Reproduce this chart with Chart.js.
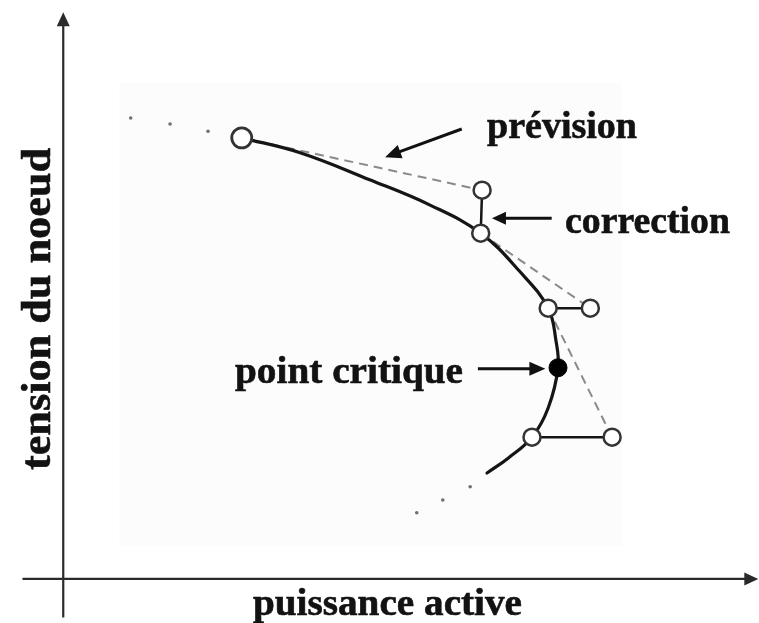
<!DOCTYPE html>
<html>
<head>
<meta charset="utf-8">
<script src="https://cdn.jsdelivr.net/npm/chart.js@4/dist/chart.umd.min.js"></script>
<style>
  html, body { margin: 0; padding: 0; background: #ffffff; }
  #wrap { width: 759px; height: 623px; }
</style>
</head>
<body>
<div id="wrap"><canvas id="pv" width="759" height="623"></canvas></div>
<script>
// P-V curve traced by continuation: active power (P) vs bus voltage (V), arbitrary units
const curveP = [25.4, 33.7, 43.6, 52.2, 59.4, 65.0, 69.0, 70.1, 70.4, 69.0, 66.7, 63.3, 60.3];
const curveV = [80.0, 77.3, 72.4, 67.8, 62.7, 55.7, 49.1, 43.3, 38.3, 31.0, 25.7, 21.9, 19.2];

// corrected points lying on the curve
const corrP = [25.4, 59.4, 69.0, 66.7];
const corrV = [80.0, 62.7, 49.1, 25.7];

// predicted points (tangent step)
const predP = [59.6, 75.0, 78.1];
const predV = [70.5, 49.1, 25.7];

// critical (nose) point
const critP = [70.4];
const critV = [38.3];

// dotted continuation beyond the traced part
const dotP = [9.6, 15.2, 20.6, 50.3, 54.0, 57.9];
const dotV = [83.6, 82.5, 81.2, 12.0, 14.3, 16.7];

const labels = {
  xTitle: 'puissance active',
  yTitle: 'tension du noeud',
  pred: 'prévision',
  corr: 'correction',
  crit: 'point critique'
};

const pts = (xs, ys) => xs.map((x, i) => ({ x: x, y: ys[i] }));

const datasets = [];

// open circles: corrected and predicted points
datasets.push({
  data: pts(corrP, corrV).slice(0, 1),
  showLine: false, pointRadius: 10, pointBorderWidth: 2.8,
  pointBackgroundColor: '#ffffff', pointBorderColor: '#333333'
});
datasets.push({
  data: pts(corrP, corrV).slice(1).concat(pts(predP, predV)),
  showLine: false, pointRadius: 8.5, pointBorderWidth: 2.5,
  pointBackgroundColor: '#ffffff', pointBorderColor: '#333333'
});
// critical point (filled)
datasets.push({
  data: pts(critP, critV),
  showLine: false, pointRadius: 9, pointBorderWidth: 1,
  pointBackgroundColor: '#000000', pointBorderColor: '#000000'
});
// dotted extension
datasets.push({
  data: pts(dotP, dotV),
  showLine: false, pointRadius: 1.8, pointBorderWidth: 0,
  pointBackgroundColor: '#6f6f6f', pointBorderColor: '#6f6f6f'
});
// correction segments: predicted point -> next corrected point
for (let i = 0; i < predP.length; i++) {
  datasets.push({
    data: [{ x: predP[i], y: predV[i] }, { x: corrP[i + 1], y: corrV[i + 1] }],
    showLine: true, pointRadius: 0, borderColor: '#151515', borderWidth: 2.5, tension: 0
  });
}
// the solid P-V curve
datasets.push({
  data: pts(curveP, curveV),
  showLine: true, pointRadius: 0, borderColor: '#151515', borderWidth: 3.2,
  tension: 0.4, borderCapStyle: 'round'
});
// prediction segments: corrected point -> predicted point (dashed)
for (let i = 0; i < predP.length; i++) {
  datasets.push({
    data: [{ x: corrP[i], y: corrV[i] }, { x: predP[i], y: predV[i] }],
    showLine: true, pointRadius: 0, borderColor: '#8a8a8a', borderWidth: 2,
    borderDash: [9, 6], tension: 0
  });
}

// bold serif text stretched to a given length
function drawFitted(ctx, text, x, y, width, size, rot) {
  ctx.save();
  ctx.font = 'bold ' + size + 'px "Liberation Serif", "Times New Roman", serif';
  ctx.fillStyle = '#121212';
  ctx.textAlign = 'left';
  ctx.textBaseline = 'alphabetic';
  const w = ctx.measureText(text).width;
  ctx.translate(x, y);
  if (rot) ctx.rotate(rot);
  ctx.scale(width / w, 1);
  ctx.fillText(text, 0, 0);
  ctx.strokeStyle = '#121212';
  ctx.lineWidth = 0.6;
  ctx.strokeText(text, 0, 0);
  ctx.restore();
}

function arrow(ctx, x0, y0, x1, y1, lw, headLen, headHalf, color) {
  const a = Math.atan2(y1 - y0, x1 - x0);
  const bx = x1 - headLen * Math.cos(a), by = y1 - headLen * Math.sin(a);
  ctx.save();
  ctx.strokeStyle = color || '#111111';
  ctx.fillStyle = color || '#111111';
  ctx.lineWidth = lw;
  ctx.beginPath();
  ctx.moveTo(x0, y0);
  ctx.lineTo(bx + Math.cos(a), by + Math.sin(a));
  ctx.stroke();
  ctx.beginPath();
  ctx.moveTo(x1, y1);
  ctx.lineTo(bx + headHalf * Math.sin(a), by - headHalf * Math.cos(a));
  ctx.lineTo(bx - headHalf * Math.sin(a), by + headHalf * Math.cos(a));
  ctx.closePath();
  ctx.fill();
  ctx.restore();
}

const decor = {
  id: 'decor',
  beforeDatasetsDraw(chart) {
    const ctx = chart.ctx, sx = chart.scales.x, sy = chart.scales.y;
    const X = v => sx.getPixelForValue(v), Y = v => sy.getPixelForValue(v);
    // faint panel behind the curve
    ctx.save();
    ctx.fillStyle = '#fcfcfc';
    ctx.fillRect(X(8), Y(90), X(79.5) - X(8), Y(6) - Y(90));
    ctx.restore();
    // axes with arrow heads
    arrow(ctx, X(0), Y(-7), X(0), Y(102.8), 2.2, 14, 6.5, '#2a2a2a');
    arrow(ctx, X(-5.8), Y(0), X(98.9), Y(0), 2.2, 14, 6.5, '#2a2a2a');
  },
  afterDatasetsDraw(chart) {
    const ctx = chart.ctx, sx = chart.scales.x, sy = chart.scales.y;
    const X = v => sx.getPixelForValue(v), Y = v => sy.getPixelForValue(v);
    // annotation arrows
    arrow(ctx, X(56.7), Y(81.6), X(45.8), Y(76.5), 3, 16, 7);
    arrow(ctx, X(69.5), Y(65.4), X(61.0), Y(65.4), 3, 14, 6.5);
    arrow(ctx, X(59.0), Y(38.1), X(68.6), Y(38.1), 3, 16, 7);
    // annotation labels
    drawFitted(ctx, labels.pred, 487, 138, 150, 38);
    drawFitted(ctx, labels.corr, 565, 233, 165, 38);
    drawFitted(ctx, labels.crit, 235, 383, 228, 38);
    // axis titles
    drawFitted(ctx, labels.xTitle, 253, 615, 269, 37);
    drawFitted(ctx, labels.yTitle, 50, 470, 322, 43, -Math.PI / 2);
  }
};

new Chart(document.getElementById('pv'), {
  type: 'scatter',
  data: { datasets: datasets },
  options: {
    responsive: false,
    animation: false,
    devicePixelRatio: 1,
    layout: { padding: 0, autoPadding: false },
    plugins: { legend: { display: false }, tooltip: { enabled: false } },
    scales: {
      x: { type: 'linear', min: -9, max: 99, display: false },
      y: { type: 'linear', min: -8, max: 105, display: false }
    }
  },
  plugins: [decor]
});
</script>
</body>
</html>
